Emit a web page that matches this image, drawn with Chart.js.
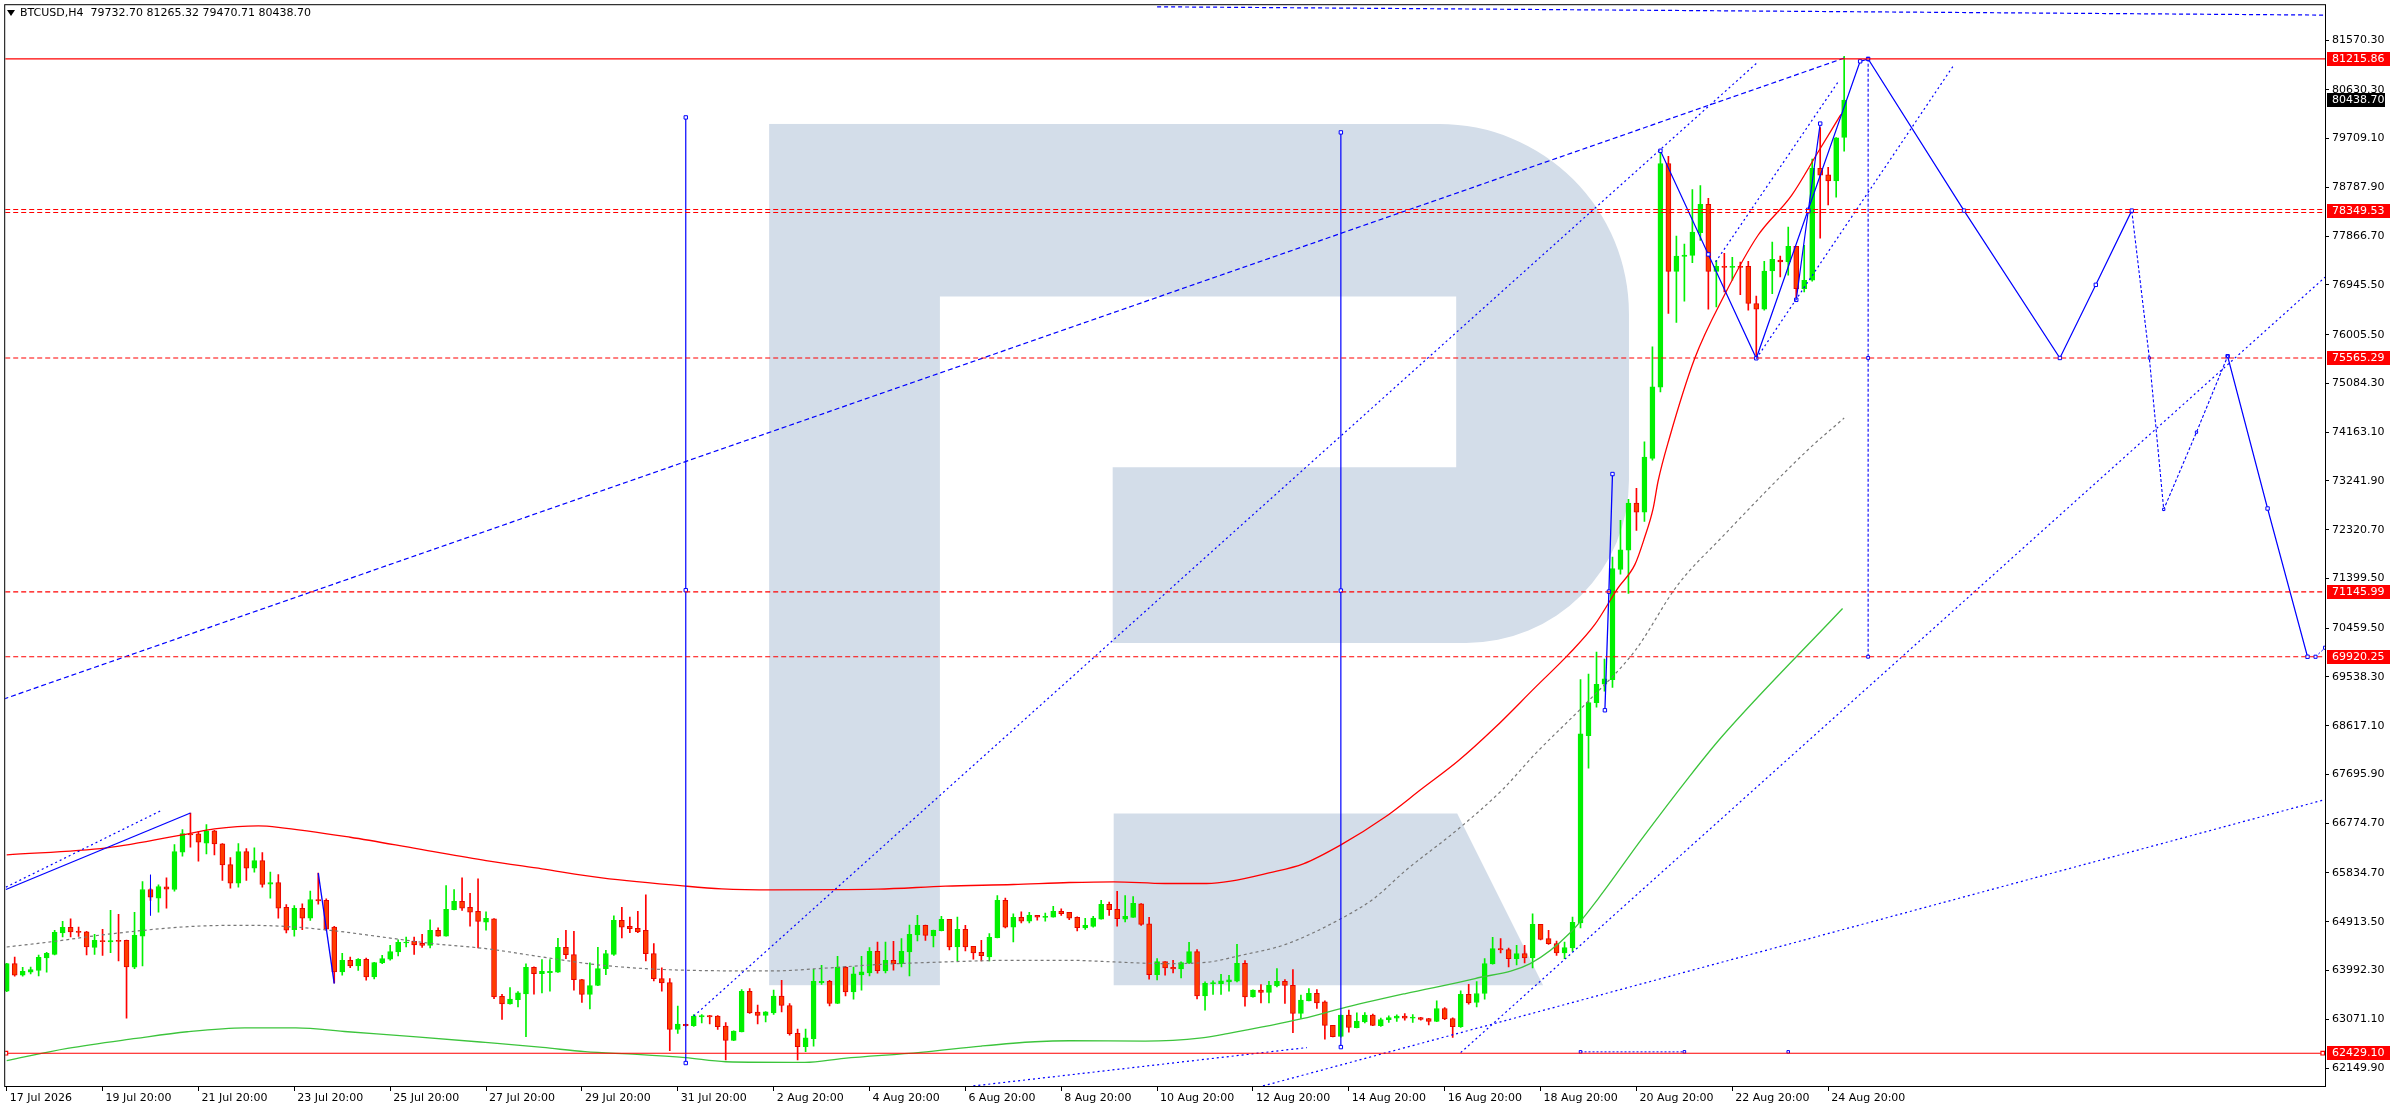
<!DOCTYPE html>
<html><head><meta charset="utf-8">
<script src="https://cdn.jsdelivr.net/npm/chart.js@4.4.1/dist/chart.umd.min.js"></script>
<style>html,body{margin:0;padding:0;background:#fff;overflow:hidden}canvas{display:block}</style>
</head><body>
<canvas id="c" width="2396" height="1110"></canvas>
<script>
// ---------- DATA ----------
const symbol = 'BTCUSD,H4';
const tickBars = [0,12,24,36,48,60,72,84,96,108,120,132,144,156,168,180,192,204,216,228];
const tickLabels = ['17 Jul 2026','19 Jul 20:00','21 Jul 20:00','23 Jul 20:00','25 Jul 20:00','27 Jul 20:00','29 Jul 20:00','31 Jul 20:00','2 Aug 20:00','4 Aug 20:00','6 Aug 20:00','8 Aug 20:00','10 Aug 20:00','12 Aug 20:00','14 Aug 20:00','16 Aug 20:00','18 Aug 20:00','20 Aug 20:00','22 Aug 20:00','24 Aug 20:00'];
const yTicks = [81570.30,80630.30,79709.10,78787.90,77866.70,76945.50,76005.50,75084.30,74163.10,73241.90,72320.70,71399.50,70459.50,69538.30,68617.10,67695.90,66774.70,65834.70,64913.50,63992.30,63071.10,62149.90];

const open = [63601,64122,63902,63959,63996,64229,64298,64700,64807,64725,
64725,64430,64556,64530,64562,64562,64053,64643,65523,65360,
65573,65523,66226,66572,66572,66396,66629,66384,65994,65642,
66239,65925,66069,65623,65655,65184,64763,65165,64983,65334,
65316,64813,63965,64185,64078,64204,63871,64135,64204,64342,
64512,64543,64505,64468,64750,64643,65140,65297,65184,65108,
64907,64970,63506,63362,63443,63550,64053,63934,63953,63959,
64430,64292,63821,63538,63708,64028,64298,64939,64826,64788,
64751,64311,63840,63764,62879,62973,62948,63117,63142,63130,
62941,62671,62834,63601,63205,63142,63193,63507,63331,62803,
62552,62703,63764,63789,63368,64053,63588,63909,63946,64355,
63984,64185,64122,64342,64663,64845,64644,64744,64958,64436,
64769,64449,64336,64248,64612,65316,64813,64996,64926,65033,
64996,65002,65109,65090,64996,64795,64826,64964,65241,65146,
64964,64996,65253,64876,63915,64160,64053,64022,64141,64348,
63513,63745,63745,63777,63789,64129,63494,63620,63576,63702,
63789,63714,63180,63419,63563,63400,62954,62747,63149,62910,
63023,63149,62948,63061,63092,63130,63092,63105,63086,63029,
63274,63086,62929,63544,63387,63557,64116,64405,64386,64217,
64311,64229,64864,64593,64499,64323,64418,64889,68429,69053,
69400,69487,71568,71932,72825,72652,73667,75011,79240,77202,
77485,77503,77930,78469,77202,77296,77277,77296,77296,76594,
76487,77208,77416,77378,77673,76876,77033,79146,79027,78908,
79732.70];
const high = [64130,64248,64053,64059,64285,64336,64750,64920,64970,64813,
64730,64675,64769,65127,65052,64565,65089,65674,65540,65611,
65743,66371,66654,66968,66616,66748,66640,66390,66126,66390,
66296,66308,66220,65850,65806,65240,65221,65253,65491,65831,
65347,64826,64317,64248,64216,64229,64145,64279,64468,64574,
64625,64625,64675,64951,64800,65598,65523,65743,65448,65724,
65102,64975,63544,63670,63594,64116,64060,64198,64198,64600,
64750,64732,63825,64135,64430,64374,65027,65184,65002,65109,
65423,64499,64041,63840,63318,62980,63161,63161,63145,63142,
63010,62850,63632,63651,63337,63215,63620,63808,63368,62885,
62885,64016,64091,63808,64261,64072,64059,64261,64424,64531,
64531,64543,64593,64851,65033,64850,64755,65014,64960,65002,
64845,64450,64562,64688,65410,65360,65065,65102,65090,65035,
65077,65203,65159,65092,65008,64977,65014,65316,65285,65486,
65410,65391,65255,64996,64217,64162,64185,64154,64524,64386,
63777,63796,63921,63902,64487,64179,63625,63727,63789,64028,
63821,64009,63526,63651,63632,63419,62955,63150,63243,63193,
63199,63168,63092,63136,63155,63180,63161,63106,63088,63419,
63293,63098,63607,63733,63783,64217,64619,64593,64418,64468,
64468,65065,64866,64751,64550,64531,65002,69487,69591,70007,
69877,71802,72496,72895,73103,73979,75774,79479,79373,77867,
77716,78745,78820,78582,77409,77541,77466,77378,77390,76732,
77390,77754,77491,78036,77675,77691,79322,79918,79165,79730,
81265.32];
const low = [63590,63883,63883,63927,63890,63959,64285,64625,64625,64637,
64285,64298,64279,64329,64172,63092,64028,64078,65316,65096,
65171,65492,66151,66321,66057,66195,66176,65693,65548,65567,
65693,65850,65567,65360,64983,64700,64643,64763,64939,65246,
64750,63758,63902,64047,63996,63808,63833,64122,64185,64267,
64436,64298,64430,64417,64640,64640,65135,65127,64832,64417,
64756,63462,63067,63355,63305,62740,63544,63570,63601,63955,
64217,63620,63387,63268,63705,63915,64279,64606,64707,64707,
64173,63796,63601,62476,62803,62940,62935,63004,62985,62879,
62301,62668,62830,63180,62985,63023,63161,63211,62772,62301,
62458,62564,63727,63325,63365,63513,63450,63620,63890,63940,
63946,63997,64059,63890,64550,64562,64436,64740,64380,64173,
64361,64204,64173,64173,64610,64795,64531,64889,64889,64945,
64926,65000,65033,64952,64738,64769,64813,64960,65033,64832,
64908,64994,64845,63827,63815,63902,63946,63852,64122,63457,
63243,63538,63538,63601,63777,63318,63490,63381,63381,63683,
63368,62816,63086,63417,63274,62696,62738,62734,62828,62908,
63004,62952,62935,63010,63029,63054,63010,63054,62966,63027,
63061,62728,62916,63356,63306,63450,64114,64323,64059,64097,
64135,64041,64568,64487,64279,64217,64355,64795,67813,68966,
69270,69339,71481,71117,72305,72478,73632,74924,76406,76236,
76638,77365,77785,76487,76531,76813,77033,76763,76468,75559,
76468,76782,77096,77127,76656,76813,77014,77829,78456,78601,
79470.71];
const close = [64122,63902,63977,64009,64241,64317,64712,64807,64719,64712,
64436,64562,64537,64556,64543,64059,64656,65523,65378,65579,
65529,66239,66578,66553,66415,66629,66384,65988,65642,66239,
65925,66069,65617,65655,65171,64756,65165,64983,65334,65309,
64775,63965,64185,64078,64204,63871,64141,64216,64348,64524,
64530,64474,64468,64750,64643,65146,65297,65171,65096,64920,
64976,63494,63362,63450,63569,64053,63934,63978,63978,64430,
64292,63821,63538,63708,64028,64311,64939,64813,64782,64719,
64311,63840,63758,62879,62979,62948,63130,63142,63117,62929,
62671,62847,63601,63193,63142,63211,63507,63331,62797,62552,
62721,63789,63789,63368,64059,63588,63928,63965,64355,63990,
64185,64122,64355,64675,64845,64656,64751,64958,64436,64769,
64436,64323,64273,64618,65316,64813,64996,64926,65033,65002,
65014,65109,65065,64983,64801,64845,64983,65241,65140,64970,
65014,65259,64864,63915,64160,64041,64022,64141,64348,63513,
63752,63758,63796,63815,64129,63494,63620,63576,63714,63789,
63708,63180,63431,63563,63381,62954,62740,63149,62916,63036,
63149,62954,63067,63105,63130,63092,63105,63067,63029,63274,
63079,62929,63544,63381,63557,64122,64405,64380,64217,64311,
64229,64864,64581,64499,64323,64424,64901,68463,69053,69400,
69504,71586,71941,72825,72652,73693,75020,79240,77202,77491,
77510,77942,78469,77202,77296,77277,77296,77277,76594,76487,
77208,77428,77378,77673,76876,77033,79146,79021,78908,79723,
80438.70];

// moving averages (sampled readings)
const redMaBars = [0,12.5,23,26,31.5,34,43,51.5,60,67,74.5,85,89.5,96,109,117.5,126,133,138.6,145,150.2,153.2,158,162.3,167,172.5,177.1,181.7,186.3,191.3,195.5,198.8,201.7,203.8,205,206.1,206.7,208.1,211.3,215,219.2,223.4,226.7,229.6];
const redMaVals = [66177,66308,66585,66667,66723,66698,66510,66290,66070,65913,65743,65586,65536,65517,65529,65586,65617,65655,65668,65636,65636,65680,65837,66007,66365,66886,67420,67954,68582,69336,69964,70530,71221,71660,72163,72728,73231,74039,75559,76750,77879,78632,79447,80168];
const grayMaBars = [0,6,12.5,23.3,29.8,34,40.5,47,53.4,60,67,74.5,85,96,101.6,109,117.5,126,133,138.6,145,150.2,154.5,160.1,167,171.1,175.1,181.7,187.3,191.3,198,203.8,209.2,214.6,225.5,230];
const grayMaVals = [64436,64543,64675,64826,64845,64832,64751,64625,64499,64405,64248,64091,63997,63984,64028,64104,64154,64185,64185,64154,64122,64147,64279,64487,64970,65347,65881,66666,67420,68080,69085,70030,71284,72163,73835,74430];
const greenMaBars = [0,7.6,16.2,22.6,29.8,36.2,42.7,51.3,59.9,67.1,72.4,78.9,85,90,99.9,104.8,114.4,122,128.7,133,142.5,149.6,152.8,162.3,167,175.1,183.8,190.7,195.8,199.2,204.6,210.6,214.6,229.8];
const greenMaVals = [62290,62520,62709,62835,62910,62910,62835,62740,62633,62539,62458,62408,62345,62268,62256,62332,62445,62565,62646,62665,62659,62721,62800,63086,63274,63557,63840,64122,64719,65347,66464,67651,68394,70831];

// horizontal levels
const solidLevels = [81215.86];
const supportLevel = [62429.10];
const supportBars = [-0.1, 289.9];
const dashedLevels = [75565.29, 71145.99, 69920.25];
const doubleLevels = [78349.53];
const currentPrice = 80438.70;

// drawn analysis objects (bar index, price)
const zzBars = [207,213,219,225.5,232,233,245,257,261.5,266];
const zzVals = [79479,77522,75559,78364,81170,81216,78349,75565,76947,78349];
const altBars = [266,268.2,270,274.1,278];
const altVals = [78349,75565,72704,74163,75597];
const finBars = [278,283,288];
const finVals = [75597,72721,69920];
const tailBars = [289,290.2];
const tailVals = [69920,70090];
const waveBars = [224,225.5,227];
const waveVals = [76663,78337,79993];
const impBars = [200.05,200.55,201];
const impVals = [68909,71150,73372];
const v1Bars = [85,85,85];   const v1Vals = [62244,71177,80110];
const v2Bars = [167,167,167]; const v2Vals = [62545,71170,79827];
const v3Bars = [233,233,233]; const v3Vals = [69920,75565,81216];
const trendABars = [-0.4,230];     const trendAVals = [69120,81230];
const trendBBars = [86,219];       const trendBVals = [63130,81128];
const chanUpBars = [213.9,229.4];  const chanUpVals = [77378,80815];
const chanLoBars = [219,243.8];    const chanLoVals = [75553,81115];
const trendCBars = [182,290.2];    const trendCVals = [62440,77091];
const trendDBars = [121,162.75];   const trendDVals = [61811,62536];
const trendEBars = [157.25,290.25];const trendEVals = [61811,67224];
const trendFBars = [144,290.2];    const trendFVals = [82200,82043];
const oldSolidBars = [-0.1,23];    const oldSolidVals = [65523,66968];
const oldDotBars = [-0.1,19.3];    const oldDotVals = [65567,67012];
const oldSeg1Bars = [18,18];       const oldSeg1Vals = [65800,65033];
const oldSeg2Bars = [39,41];       const oldSeg2Vals = [65831,63745];
const botDotBars = [197,210];      const botDotVals = [62455,62455];
const botMarkBars = [223];         const botMarkVals = [62455];

// ---------- STYLE ----------
const FONT = 'DejaVu Sans';
const BLUE = '#0000FF', RED = '#FF0000';
const BULL = '#00F000', BEAR_FILL = '#FF3C00', BEAR_LINE = '#E60000';
const LOGO = 'rgb(211,221,233)';
const xMin = -0.1875, xMax = 290.1875, yMin = 61810, yMax = 82230;

const pts = (b, v) => b.map((x, k) => ({x, y: v[k]}));
const bull = close.map((c, i) => c >= open[i]);

function line(bars, vals, o) {
  return Object.assign({type:'line', data: pts(bars, vals), borderColor: BLUE, borderWidth: 1,
    pointRadius: 0, fill: false, tension: 0, order: 10}, o || {});
}
const mk = (r) => ({pointRadius: r, pointStyle: 'rect', pointBackgroundColor: '#fff', pointBorderColor: BLUE, pointBorderWidth: 1});
const DOT = {borderDash:[2,3], borderWidth: 1.2};

const datasets = [
  {type:'bar', data: open.map((o,i)=>({x:i, y:[low[i], high[i]]})), barThickness: 1,
   backgroundColor: bull.map(b=>b?BULL:RED), borderWidth: 0, grouped:false, order: 101},
  {type:'bar', data: open.map((o,i)=>({x:i, y:[o, close[i]]})), barThickness: 5, minBarLength: 1,
   backgroundColor: bull.map(b=>b?BULL:BEAR_FILL), borderColor: bull.map(b=>b?BULL:BEAR_LINE),
   borderWidth: 1, borderSkipped: false, grouped:false, order: 100},
  line(redMaBars, redMaVals, {borderColor: RED, borderWidth: 1.3, cubicInterpolationMode:'monotone', order: 50}),
  line(grayMaBars, grayMaVals, {borderColor: '#777', borderWidth: 1.2, borderDash:[3,3], cubicInterpolationMode:'monotone', order: 50}),
  line(greenMaBars, greenMaVals, {borderColor: '#3CC43C', borderWidth: 1.3, cubicInterpolationMode:'monotone', order: 50}),
  // levels
  ...solidLevels.map(v => line([xMin, xMax], [v, v], {borderColor: RED, borderWidth: 1.2})),
  line(supportBars, [supportLevel[0], supportLevel[0]], {borderColor: RED, borderWidth: 1.2, pointRadius: 2.5, pointStyle:'rect', pointBackgroundColor:'#fff', pointBorderColor: RED}),
  line([xMin, supportBars[0]], [supportLevel[0], supportLevel[0]], {borderColor: RED, borderWidth: 1.2}),
  ...dashedLevels.map(v => line([xMin, xMax], [v, v], {borderColor: RED, borderWidth: 1.1, borderDash:[5,3]})),
  // trend lines
  line(trendABars, trendAVals, {borderDash:[5,3], borderWidth: 1.2}),
  line(trendBBars, trendBVals, DOT),
  line(chanUpBars, chanUpVals, DOT),
  line(chanLoBars, chanLoVals, DOT),
  line(trendCBars, trendCVals, DOT),
  line(trendDBars, trendDVals, DOT),
  line(trendEBars, trendEVals, DOT),
  line(trendFBars, trendFVals, {borderDash:[4,3], borderWidth: 1.2}),
  line(oldSolidBars, oldSolidVals, {borderWidth: 1.3}),
  line(oldDotBars, oldDotVals, DOT),
  line(oldSeg1Bars, oldSeg1Vals, {}),
  line(oldSeg2Bars, oldSeg2Vals, {borderWidth: 1.3}),
  line(botDotBars, botDotVals, Object.assign({borderDash:[2,2]}, mk(1.8))),
  line(botMarkBars, botMarkVals, mk(1.8)),
  // zigzags & verticals
  line(v1Bars, v1Vals, Object.assign({borderWidth: 1.2}, mk(2.4))),
  line(v2Bars, v2Vals, Object.assign({borderWidth: 1.2}, mk(2.4))),
  line(v3Bars, v3Vals, Object.assign({borderDash:[3,2], borderWidth: 1.1}, mk(2))),
  line(impBars, impVals, Object.assign({borderWidth: 1.3}, mk(2.4))),
  line(waveBars, waveVals, Object.assign({borderWidth: 1.2}, mk(2.4))),
  line(zzBars, zzVals, Object.assign({borderWidth: 1.2}, mk(2.4))),
  line(altBars, altVals, Object.assign({borderDash:[3,2], borderWidth: 1.1}, mk(1.6))),
  line(finBars, finVals, Object.assign({borderWidth: 1.2}, mk(2.4))),
  line(tailBars, tailVals, Object.assign({borderDash:[2,2]}, mk(2.2))),
];

const decor = {
  id: 'decor',
  beforeDraw(chart) {
    const {ctx, width, height} = chart;
    ctx.save(); ctx.fillStyle = '#fff'; ctx.fillRect(0, 0, width, height); ctx.restore();
  },
  beforeDatasetsDraw(chart) {
    const {ctx, chartArea: ca} = chart;
    const sx = ca.width / 2323, sy = ca.height / 1083;
    const P = (x, y) => [ca.left + (x - 2) * sx, ca.top + (y - 3) * sy];
    ctx.save();
    ctx.fillStyle = LOGO;
    const a = P(767, 122), b = P(938, 985);
    ctx.fillRect(a[0], a[1], b[0] - a[0], b[1] - a[1]);
    ctx.beginPath();
    ctx.moveTo(...P(937, 122));
    ctx.arcTo(...P(1628, 122), ...P(1628, 642), 190 * sx);
    ctx.arcTo(...P(1628, 642), ...P(1111, 642), 163 * sx);
    ctx.lineTo(...P(1111, 642));
    ctx.lineTo(...P(1111, 466));
    ctx.lineTo(...P(1455, 466));
    ctx.lineTo(...P(1455, 295));
    ctx.lineTo(...P(937, 295));
    ctx.closePath(); ctx.fill();
    ctx.beginPath();
    ctx.moveTo(...P(1112, 813)); ctx.lineTo(...P(1456, 813));
    ctx.lineTo(...P(1542, 985)); ctx.lineTo(...P(1112, 985));
    ctx.closePath(); ctx.fill();
    ctx.restore();
  },
  afterDatasetsDraw(chart) {
    const {ctx, chartArea: ca, scales} = chart;
    ctx.save();
    ctx.beginPath(); ctx.rect(ca.left, ca.top, ca.width, ca.height); ctx.clip();
    ctx.strokeStyle = RED; ctx.lineWidth = 1; ctx.setLineDash([5, 3]);
    doubleLevels.forEach(v => {
      const y = Math.round(scales.y.getPixelForValue(v));
      [y - 1.5, y + 1.5].forEach(yy => { ctx.beginPath(); ctx.moveTo(ca.left, yy); ctx.lineTo(ca.right, yy); ctx.stroke(); });
    });
    ctx.restore();
    ctx.save();
    ctx.strokeStyle = '#000'; ctx.lineWidth = 1;
    ctx.strokeRect(ca.left - 0.5, ca.top - 0.5, ca.width + 1, ca.height + 1);
    ctx.restore();
  },
  afterDraw(chart) {
    const {ctx, chartArea: ca, scales} = chart;
    ctx.save();
    ctx.font = '11px "' + FONT + '"';
    ctx.textBaseline = 'middle'; ctx.textAlign = 'left';
    const boxes = [...solidLevels, ...doubleLevels, ...dashedLevels, ...supportLevel];
    boxes.forEach(v => {
      const y = Math.round(scales.y.getPixelForValue(v));
      ctx.fillStyle = RED; ctx.fillRect(ca.right + 2, y - 7, 63, 14);
      ctx.fillStyle = '#fff'; ctx.fillText(v.toFixed(2), ca.right + 7, y + 0.5);
    });
    const yc = Math.round(scales.y.getPixelForValue(currentPrice));
    ctx.fillStyle = '#000'; ctx.fillRect(ca.right + 2, yc - 7, 58, 14);
    ctx.fillStyle = '#fff'; ctx.fillText(currentPrice.toFixed(2), ca.right + 7, yc + 0.5);
    // title
    const n = close.length - 1;
    ctx.fillStyle = '#000';
    ctx.beginPath(); ctx.moveTo(7, 10); ctx.lineTo(15, 10); ctx.lineTo(11, 16); ctx.closePath(); ctx.fill();
    ctx.fillText(symbol + '  ' + [open[n], high[n], low[n], close[n]].map(v => v.toFixed(2)).join(' '), 20, 13.5);
    ctx.restore();
  }
};

new Chart(document.getElementById('c'), {
  type: 'bar',
  data: {datasets},
  plugins: [decor],
  options: {
    responsive: false, animation: false, devicePixelRatio: 1, events: [],
    layout: {padding: {left: 2, top: 3, right: 0, bottom: 0}},
    plugins: {legend: {display: false}, tooltip: {enabled: false}},
    scales: {
      x: {
        type: 'linear', min: xMin, max: xMax, offset: false,
        grid: {display: true, drawOnChartArea: false, drawTicks: true, tickLength: 5, color: '#000', offset: false},
        border: {display: true, color: '#000'},
        ticks: {autoSkip: false, maxRotation: 0, minRotation: 0, align: 'start', labelOffset: 3, padding: 1,
          color: '#000', font: {family: FONT, size: 11},
          callback: (v) => { const k = tickBars.indexOf(v); return k >= 0 ? tickLabels[k] : ''; }},
        afterBuildTicks: (s) => { s.ticks = tickBars.map(v => ({value: v})); },
        afterFit: (s) => { s.height = 24; s.paddingLeft = 0; s.paddingRight = 0; }
      },
      y: {
        type: 'linear', position: 'right', min: yMin, max: yMax,
        grid: {display: true, drawOnChartArea: false, drawTicks: true, tickLength: 4, color: '#000'},
        border: {display: true, color: '#000'},
        ticks: {autoSkip: false, padding: 3, color: '#000', font: {family: FONT, size: 11},
          callback: (v) => Number(v).toFixed(2)},
        afterBuildTicks: (s) => { s.ticks = yTicks.map(v => ({value: v})); },
        afterFit: (s) => { s.width = 71; s.paddingTop = 0; s.paddingBottom = 0; }
      }
    }
  }
});
</script>
</body></html>
